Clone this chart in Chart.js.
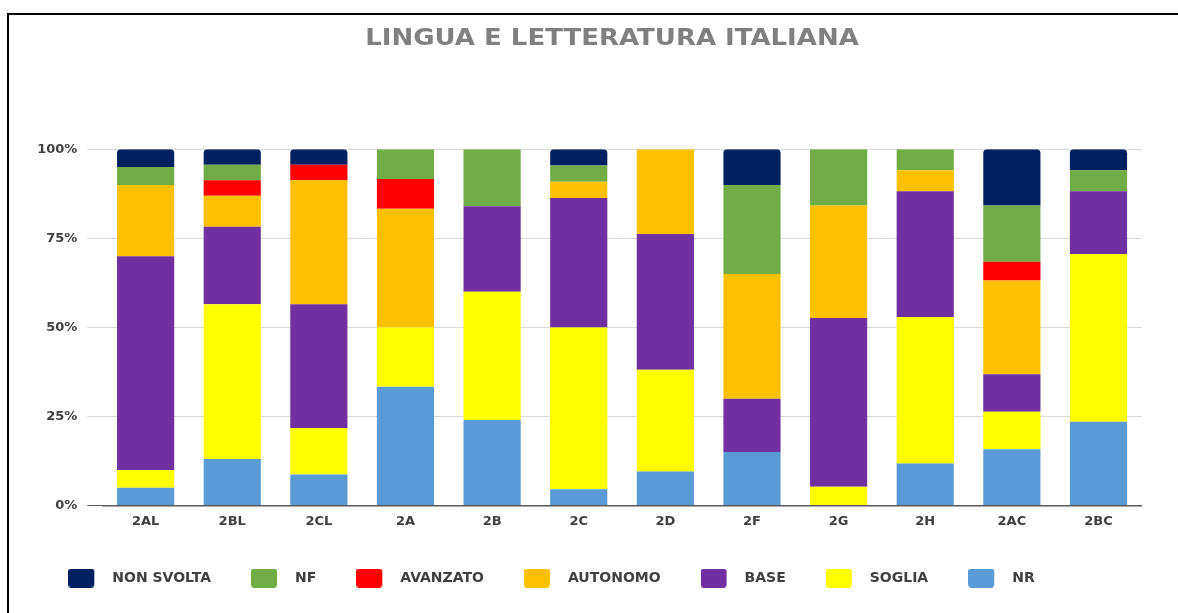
<!DOCTYPE html>
<html>
<head>
<meta charset="utf-8">
<title>Lingua e letteratura italiana</title>
<script src="https://cdn.jsdelivr.net/npm/chart.js@4.4.1/dist/chart.umd.min.js"></script>
<style>
body { margin:0; background:#fff; }
#wrap { position:relative; width:1178px; height:613px; overflow:hidden; }
#frame { position:absolute; left:7px; top:13px; width:1200px; height:700px; border-left:2px solid #000; border-top:2px solid #000; }
canvas { position:absolute; left:0; top:0; }
</style>
</head>
<body>
<div id="wrap">
	<div id="frame"></div>
	<canvas id="grafico" width="1178" height="613"></canvas>
</div>
<script>
var chartTitle = 'LINGUA E LETTERATURA ITALIANA';
var classi = ['2AL', '2BL', '2CL', '2A', '2B', '2C', '2D', '2F', '2G', '2H', '2AC', '2BC'];

// percentuali per livello
var nr        = [5, 13.04, 8.7, 33.33, 24, 4.55, 9.52, 15, 0, 11.76, 15.79, 23.53];
var soglia    = [5, 43.48, 13.04, 16.67, 36, 45.45, 28.57, 0, 5.26, 41.18, 10.53, 47.06];
var base      = [60, 21.74, 34.78, 0, 24, 36.36, 38.1, 15, 47.37, 35.29, 10.53, 17.65];
var autonomo  = [20, 8.7, 34.78, 33.33, 0, 4.55, 23.81, 35, 31.58, 5.88, 26.32, 0];
var avanzato  = [0, 4.35, 4.35, 8.33, 0, 0, 0, 0, 0, 0, 5.26, 0];
var nf        = [5, 4.35, 0, 8.33, 16, 4.55, 0, 25, 15.79, 5.88, 15.79, 5.88];
var nonSvolta = [5, 4.35, 4.35, 0, 0, 4.55, 0, 10, 0, 0, 15.79, 5.88];

var yTicks = [0, 25, 50, 75, 100];

var testo = '#404040';
var fontTick = { family: 'DejaVu Sans', size: 13, weight: 'bold' };

function swatch(color) {
	var c = document.createElement('canvas');
	c.width = 37;
	c.height = 19;
	var g = c.getContext('2d');
	g.fillStyle = color;
	g.beginPath();
	if (g.roundRect) {
		g.roundRect(0, 0, 26, 19, 3);
	} else {
		g.rect(0, 0, 26, 19);
	}
	g.fill();
	return c;
}

var titolo = {
	id: 'titolo',
	afterDraw: function(chart) {
		var ctx = chart.ctx;
		ctx.save();
		ctx.font = 'bold 23px "DejaVu Sans"';
		ctx.fillStyle = '#808080';
		ctx.textAlign = 'center';
		ctx.textBaseline = 'middle';
		ctx.translate(612, 39);
		ctx.scale(1.13, 1);
		ctx.fillText(chartTitle, 0, 0);
		ctx.restore();
	}
};

var chartdata = {
	labels: classi,
	datasets: [
		{ label: 'NR', data: nr, backgroundColor: '#5B9BD5' },
		{ label: 'SOGLIA', data: soglia, backgroundColor: '#FFFF00' },
		{ label: 'BASE', data: base, backgroundColor: '#7030A0' },
		{ label: 'AUTONOMO', data: autonomo, backgroundColor: '#FFC000' },
		{ label: 'AVANZATO', data: avanzato, backgroundColor: '#FF0000' },
		{ label: 'NF', data: nf, backgroundColor: '#70AD47' },
		{
			label: 'NON SVOLTA',
			data: nonSvolta,
			backgroundColor: '#002060',
			borderRadius: { topLeft: 4, topRight: 4, bottomLeft: 0, bottomRight: 0 },
			borderSkipped: false
		}
	]
};

var grafico = new Chart(document.getElementById('grafico'), {
	type: 'bar',
	data: chartdata,
	plugins: [titolo],
	options: {
		responsive: false,
		animation: false,
		barPercentage: 0.66,
		categoryPercentage: 1,
		layout: { padding: { top: 149.3, left: 28.3, right: 36.2, bottom: 18 } },
		plugins: {
			legend: {
				position: 'bottom',
				align: 'start',
				reverse: true,
				labels: {
					usePointStyle: true,
					pointStyleWidth: 37,
					boxHeight: 14,
					padding: 40,
					color: testo,
					font: { family: 'DejaVu Sans', size: 14, weight: 'bold' },
					generateLabels: function(chart) {
						var items = Chart.defaults.plugins.legend.labels.generateLabels(chart);
						items.forEach(function(it) {
							it.pointStyle = swatch(it.fillStyle);
							it.lineWidth = 0;
						});
						return items;
					}
				}
			},
			tooltip: { enabled: false }
		},
		scales: {
			x: {
				stacked: true,
				grid: { display: false, drawTicks: false },
				border: { display: true, color: '#595959', width: 1.5 },
				ticks: { padding: 8, color: testo, font: fontTick },
				afterFit: function(s) { s.height = 25.5; }
			},
			y: {
				stacked: true,
				min: 0,
				max: 100,
				afterBuildTicks: function(s) {
					s.ticks = yTicks.map(function(v) { return { value: v }; });
				},
				ticks: {
					padding: 10,
					color: testo,
					font: fontTick,
					callback: function(v) { return v + '%'; }
				},
				grid: {
					drawTicks: true,
					tickLength: 15,
					color: function(c) {
						return c.tick && c.tick.value === 0 ? '#595959' : '#d9d9d9';
					}
				},
				border: { display: false },
				afterFit: function(s) { s.width = 74; }
			}
		}
	}
});
</script>
</body>
</html>
